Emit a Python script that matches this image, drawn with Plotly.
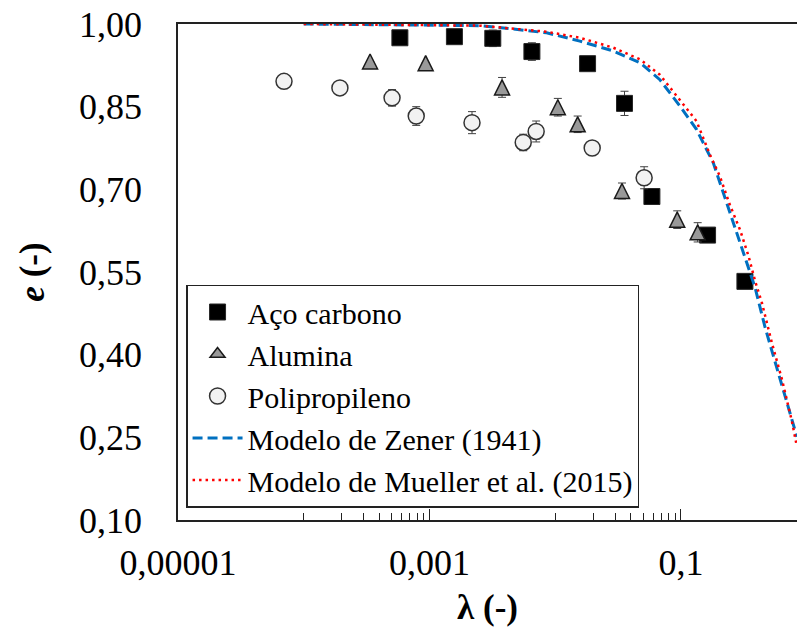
import plotly.graph_objects as go

# ---- data ----
steel_x = [5.82e-4, 1.58e-3, 3.19e-3, 6.53e-3, 0.0181, 0.0356, 0.0588, 0.163, 0.323]
steel_y = [0.975, 0.977, 0.974, 0.950, 0.928, 0.856, 0.687, 0.617, 0.533]
steel_err = [0, 0, 0.015, 0.016, 0, 0.022, 0, 0, 0]

alum_x = [3.37e-4, 9.33e-4, 3.78e-3, 0.0105, 0.0151, 0.0340, 0.0935, 0.136]
alum_y = [0.932, 0.929, 0.885, 0.849, 0.818, 0.697, 0.645, 0.622]
alum_err = [0, 0, 0.018, 0.016, 0.015, 0.0145, 0.016, 0.0175]

pp_x = [6.97e-5, 1.94e-4, 5.04e-4, 7.85e-4, 2.18e-3, 5.57e-3, 7.06e-3, 0.0197, 0.0510]
pp_y = [0.896, 0.884, 0.866, 0.833, 0.821, 0.785, 0.805, 0.775, 0.721]
pp_err = [0, 0, 0.015, 0.017, 0.020, 0.015, 0.019, 0, 0.020]

zener_x = [1.0e-4, 5.8e-4, 2.52e-3, 4.62e-3, 8.55e-3, 0.0157, 0.029, 0.0472, 0.068,
           0.0982, 0.133, 0.181, 0.238, 0.304, 0.390, 0.468, 0.580, 0.718, 0.837]
zener_y = [1.000, 0.999, 0.997, 0.991, 0.984, 0.969, 0.951, 0.930, 0.899,
           0.851, 0.809, 0.748, 0.666, 0.597, 0.521, 0.449, 0.376, 0.300, 0.251]

mueller_x = [1.0e-4, 5.8e-4, 2.52e-3, 8.55e-3, 0.0157, 0.029, 0.0472, 0.068, 0.0982,
             0.133, 0.170, 0.204, 0.245, 0.295, 0.345, 0.390, 0.441, 0.530, 0.637,
             0.764, 0.826]
mueller_y = [1.000, 0.999, 0.997, 0.986, 0.975, 0.957, 0.936, 0.908, 0.863,
             0.824, 0.763, 0.724, 0.672, 0.627, 0.579, 0.533, 0.494, 0.421, 0.355,
             0.279, 0.240]

x_tickvals = [1e-5, 1e-3, 1e-1]
x_ticktext = ["0,00001", "0,001", "0,1"]
x_minor = [1e-4, 2e-4, 3e-4, 4e-4, 5e-4, 6e-4, 7e-4, 8e-4, 9e-4,
           1e-2, 2e-2, 3e-2, 4e-2, 5e-2, 6e-2, 7e-2, 8e-2, 9e-2]
y_tickvals = [0.10, 0.25, 0.40, 0.55, 0.70, 0.85, 1.00]

FONT = "Liberation Serif"
XR = [-5, -0.0765]

fig = go.Figure()

def err(vals):
    return dict(type="data", array=vals, visible=True, color="#404040",
                thickness=1, width=4)

fig.add_trace(go.Scatter(
    x=steel_x, y=steel_y, mode="markers", name="Aço carbono",
    error_y=err(steel_err),
    marker=dict(symbol="square", size=16, color="#000000",
                line=dict(color="#262626", width=1))))

# Alumina: data trace (equilateral-looking triangle centred on the point)
fig.add_trace(go.Scatter(
    x=alum_x, y=alum_y, mode="markers", name="Alumina",
    showlegend=False,
    error_y=err(alum_err),
    marker=dict(symbol="arrow-down", angle=180, size=15, standoff=7.5,
                color="#999999", line=dict(color="#1a1a1a", width=1.5))))
# legend entry for Alumina (no data points)
fig.add_trace(go.Scatter(
    x=[None], y=[None], mode="markers", name="Alumina",
    showlegend=True,
    marker=dict(symbol="triangle-up", size=13,
                color="#999999", line=dict(color="#1a1a1a", width=1.5))))

fig.add_trace(go.Scatter(
    x=pp_x, y=pp_y, mode="markers", name="Polipropileno",
    error_y=err(pp_err),
    marker=dict(symbol="circle", size=16, color="#f2f2f2",
                line=dict(color="#333333", width=1.5))))

fig.add_trace(go.Scatter(
    x=zener_x, y=zener_y, mode="lines", name="Modelo de Zener (1941)",
    line=dict(color="#0070C0", width=3, dash="10px,5px")))

fig.add_trace(go.Scatter(
    x=mueller_x, y=mueller_y, mode="lines", name="Modelo de Mueller et al. (2015)",
    xaxis="x2",
    line=dict(color="#FF0000", width=2.5, dash="2.5px,4px")))

fig.update_layout(
    width=797, height=632,
    margin=dict(l=178, r=0, t=24, b=112),
    paper_bgcolor="white", plot_bgcolor="white",
    separators=", ",
    font=dict(family=FONT, size=36, color="black"),
    showlegend=True,
    legend=dict(
        x=0.013, y=0.25, xanchor="left", yanchor="middle",
        bgcolor="white", bordercolor="#222222", borderwidth=1.5,
        font=dict(family=FONT, size=30, color="black"),
        itemwidth=50, tracegroupgap=0,
    ),
    xaxis=dict(
        type="log", range=XR,
        tickmode="array", tickvals=x_tickvals, ticktext=x_ticktext,
        ticks="inside", ticklen=11, tickwidth=1, tickcolor="#222222",
        ticklabelstandoff=10,
        showline=True, linecolor="#222222", linewidth=1.5, mirror=True,
        showgrid=False, zeroline=False,
        tickfont=dict(family=FONT, size=36, color="black"),
        title=dict(text="<b>λ (-)</b>", font=dict(family=FONT, size=35),
                   standoff=13),
    ),
    xaxis2=dict(
        type="log", range=XR, overlaying="x", matches="x", anchor="y",
        side="bottom",
        tickmode="array", tickvals=x_minor, showticklabels=False,
        ticks="inside", ticklen=7, tickwidth=1, tickcolor="#222222",
        showline=False, showgrid=False, zeroline=False,
    ),
    yaxis=dict(
        range=[0.10, 1.00], tickmode="array", tickvals=y_tickvals,
        tickformat=".2f", ticks="", ticklabelstandoff=27,
        showline=True, linecolor="#222222", linewidth=1.5, mirror=False,
        showgrid=False, zeroline=False,
        tickfont=dict(family=FONT, size=36, color="black"),
        title=dict(text="<b><i>e</i> (-)</b>", font=dict(family=FONT, size=35),
                   standoff=24),
    ),
)

fig.write_html("out.html")
